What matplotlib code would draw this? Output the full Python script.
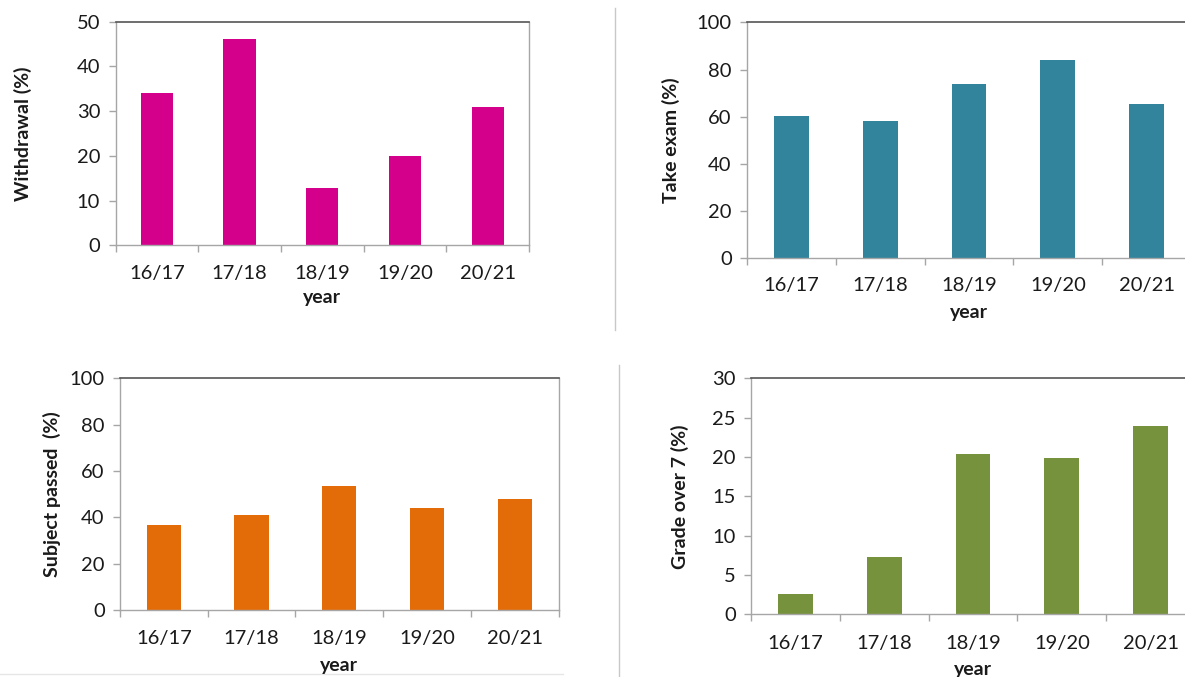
import matplotlib.pyplot as plt
from matplotlib.lines import Line2D

plt.rcParams['font.family'] = ['Lato', 'DejaVu Sans']

# data
years = ['16/17', '17/18', '18/19', '19/20', '20/21']
withdrawal = [34.0, 46.2, 12.7, 20.0, 30.9]
take_exam = [60.2, 58.2, 73.9, 84.0, 65.4]
subject_passed = [36.6, 41.0, 53.7, 43.9, 47.8]
grade_over_7 = [2.6, 7.3, 20.4, 19.9, 24.0]

W, H = 1185, 677
fig = plt.figure(figsize=(W / 100, H / 100), dpi=100)


def panel(px, values, color, ylabel, ymax, ystep, xlab_y, year_y, ylab_x):
    # px = (left, top, right, bottom) in pixels
    l, t, r, b = px
    ax = fig.add_axes([l / W, 1 - b / H, (r - l) / W, (b - t) / H])
    ax.bar(range(len(years)), values, width=0.39, color=color, zorder=2)
    ax.set_xlim(-0.5, len(years) - 0.5)
    ax.set_ylim(0, ymax)
    ax.set_yticks(range(0, ymax + 1, ystep))
    ax.set_xticks(range(len(years)))
    ax.set_xticklabels(years)
    ax.set_xticks([i - 0.5 for i in range(len(years) + 1)], minor=True)

    ax.tick_params(axis='y', length=5, width=1, color='#a6a6a6', pad=6,
                   labelsize=14.5, labelcolor='#1a1a1a')
    ax.tick_params(axis='x', which='major', length=0, labelsize=14.5,
                   labelcolor='#1a1a1a', pad=(xlab_y - b) * 0.72 - 7)
    ax.tick_params(axis='x', which='minor', length=5, width=1, color='#a6a6a6')

    for side in ['left', 'bottom', 'right']:
        ax.spines[side].set_color('#a6a6a6')
        ax.spines[side].set_linewidth(1)
    ax.spines['top'].set_color('#555555')
    ax.spines['top'].set_linewidth(1.2)

    fig.text((l + r) / 2 / W, 1 - year_y / H, 'year', ha='center', va='center',
             fontsize=14, fontweight='bold', color='#1a1a1a')
    fig.text(ylab_x / W, 1 - (t + b) / 2 / H, ylabel, rotation=90, ha='center',
             va='center', fontsize=14, fontweight='bold', color='#1a1a1a')
    return ax


panel((115.5, 21.5, 529, 245.3), withdrawal, '#d4008c', 'Withdrawal (%)',
      50, 10, 275, 298, 23)
panel((747, 22.3, 1191, 258.3), take_exam, '#31849b', 'Take exam (%)',
      100, 20, 287, 313, 671)
panel((120, 378.3, 558.5, 610), subject_passed, '#e36c09', 'Subject passed  (%)',
      100, 20, 640, 665, 52)
panel((751, 378.3, 1195, 614.3), grade_over_7, '#76923c', 'Grade over 7 (%)',
      30, 5, 645, 670, 680)

# divider lines between the pasted charts
fig.add_artist(Line2D([615 / W, 615 / W], [1 - 8 / H, 1 - 330 / H],
                      color='#c8c8c8', lw=1))
fig.add_artist(Line2D([618.5 / W, 618.5 / W], [1 - 365 / H, 0],
                      color='#c8c8c8', lw=1))
fig.add_artist(Line2D([0, 563 / W], [1 - 674 / H, 1 - 674 / H],
                      color='#e6e6e6', lw=1))

fig.savefig('out.png', dpi=100)
